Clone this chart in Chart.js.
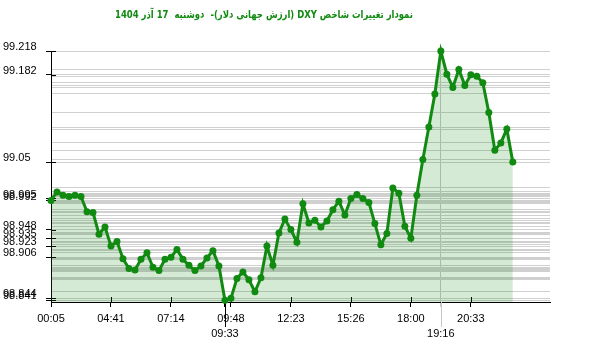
<!DOCTYPE html>
<html>
<head>
<meta charset="utf-8">
<script src="https://cdn.jsdelivr.net/npm/chart.js@4"></script>
<style>
  html, body { margin: 0; padding: 0; background: #fff; }
  #wrap { width: 600px; height: 352px; }
</style>
</head>
<body>
<div id="wrap"><canvas id="dxyChart"></canvas></div>
<script>
// DXY values, one per sample
var dxyValues = [
    98.992, 99.005, 99.000, 98.998, 99.000, 98.998, 98.975, 98.974, 98.941, 98.952,
    98.923, 98.930, 98.904, 98.889, 98.887, 98.903, 98.913, 98.891, 98.886, 98.903,
    98.906, 98.918, 98.903, 98.894, 98.886, 98.893, 98.905, 98.916, 98.893, 98.841,
    98.844, 98.874, 98.884, 98.872, 98.854, 98.875, 98.923, 98.894, 98.943, 98.964,
    98.948, 98.929, 98.987, 98.958, 98.962, 98.952, 98.961, 98.978, 98.991, 98.970,
    98.995, 99.001, 98.995, 98.989, 98.957, 98.925, 98.942, 99.011, 99.003, 98.953,
    98.935, 99.000, 99.054, 99.103, 99.153, 99.218, 99.183, 99.163, 99.190, 99.166,
    99.182, 99.180, 99.170, 99.125, 99.068, 99.079, 99.100, 99.050
];
// x tick labels (time) and the sample index they sit on
var timeLabels = ['00:05', '04:41', '07:14', '09:48', '12:23', '15:26', '18:00', '20:33'];
var timeIndex = [0, 10, 20, 30, 40, 50, 60, 70];
var lowTime = '09:33', lowIndex = 29;
var highTime = '19:16', highIndex = 65;
// labelled y ticks
var yTickLabels = [99.218, 99.182, 99.05, 98.995, 98.992, 98.948, 98.935, 98.923, 98.906, 98.844, 98.841];

var titleText = 'نمودار تغییرات شاخص DXY (ارزش جهانی دلار)-  دوشنبه  17 آذر 1404';
var green = '#108a10';

var points = dxyValues.map(function (v, i) { return { x: i, y: v }; });
var gridValues = dxyValues.concat(yTickLabels).filter(function (v, i, a) { return a.indexOf(v) === i; });
var isLabelled = function (v) { return yTickLabels.indexOf(v) >= 0; };

var xTickText = {};
timeIndex.forEach(function (idx, i) { xTickText[idx] = timeLabels[i]; });
xTickText[lowIndex] = ['', lowTime];
xTickText[highIndex] = ['', highTime];

// title + inner halves of tick marks + long marks for min/max time
var extras = {
    id: 'extras',
    beforeDatasetsDraw: function (chart) {
        var ctx = chart.ctx, xs = chart.scales.x, ys = chart.scales.y;
        var area = chart.chartArea;
        ctx.save();
        ctx.lineWidth = 1;
        ctx.strokeStyle = '#000';
        ctx.beginPath();
        yTickLabels.forEach(function (v) {
            var py = Math.round(ys.getPixelForValue(v)) + 0.5;
            ctx.moveTo(area.left, py);
            ctx.lineTo(area.left + 5, py);
        });
        timeIndex.concat([lowIndex]).forEach(function (idx) {
            var px = Math.round(xs.getPixelForValue(idx)) + 0.5;
            ctx.moveTo(px, area.bottom - 5);
            ctx.lineTo(px, area.bottom);
        });
        ctx.stroke();
        // long marks below the axis
        var lx = Math.round(xs.getPixelForValue(lowIndex)) + 0.5;
        ctx.beginPath();
        ctx.moveTo(lx, area.bottom);
        ctx.lineTo(lx, area.bottom + 25);
        ctx.stroke();
        var hx = Math.round(xs.getPixelForValue(highIndex)) + 0.5;
        ctx.strokeStyle = '#c8c8c8';
        ctx.beginPath();
        ctx.moveTo(hx, area.bottom);
        ctx.lineTo(hx, area.bottom + 25);
        ctx.stroke();
        ctx.restore();
    },
    afterDraw: function (chart) {
        var ctx = chart.ctx;
        ctx.save();
        ctx.direction = 'rtl';
        ctx.textAlign = 'center';
        ctx.textBaseline = 'middle';
        ctx.fillStyle = green;
        ctx.font = 'bold 11px "DejaVu Sans"';
        ctx.fillText(titleText, 264, 15, 298);
        ctx.restore();
    }
};

var ctx = document.getElementById('dxyChart').getContext('2d');
var chart = new Chart(ctx, {
    type: 'line',
    data: {
        datasets: [{
            data: points,
            borderColor: green,
            borderWidth: 3,
            backgroundColor: 'rgba(0,128,0,0.17)',
            fill: 'start',
            tension: 0,
            pointRadius: 3.5,
            pointBorderWidth: 0,
            pointBackgroundColor: green,
            clip: false
        }]
    },
    options: {
        responsive: true,
        maintainAspectRatio: false,
        animation: false,
        events: [],
        layout: { padding: { left: 3, top: 51, right: 50, bottom: 0 } },
        plugins: { legend: { display: false }, tooltip: { enabled: false }, title: { display: false } },
        scales: {
            x: {
                type: 'linear',
                min: 0,
                max: 83.2,
                afterBuildTicks: function (axis) {
                    axis.ticks = timeIndex.concat([lowIndex, highIndex]).map(function (v) { return { value: v }; });
                },
                afterFit: function (axis) { axis.height = 50; },
                border: { display: true, color: '#000', width: 1 },
                grid: {
                    drawOnChartArea: true,
                    tickLength: 5,
                    color: function (c) { return c.tick && c.tick.value === highIndex ? '#c8c8c8' : 'rgba(0,0,0,0)'; },
                    tickColor: function (c) { return c.tick && c.tick.value === highIndex ? '#c8c8c8' : '#000'; }
                },
                ticks: {
                    autoSkip: false,
                    maxRotation: 0,
                    padding: 5,
                    color: '#000',
                    font: { family: '"Liberation Sans", Arial, sans-serif', size: 11, lineHeight: 1.35 },
                    callback: function (v) { return xTickText[v]; }
                }
            },
            y: {
                min: 98.8385,
                max: 99.218,
                afterBuildTicks: function (axis) {
                    axis.ticks = gridValues.map(function (v) { return { value: v }; });
                },
                afterFit: function (axis) { axis.width = 48; },
                border: { display: true, color: '#000', width: 1 },
                grid: {
                    color: '#d0d0d0',
                    tickLength: 5,
                    tickColor: function (c) { return c.tick && isLabelled(c.tick.value) ? '#000' : 'rgba(0,0,0,0)'; }
                },
                ticks: {
                    autoSkip: false,
                    crossAlign: 'far',
                    labelOffset: -4,
                    color: '#000',
                    font: { family: '"Liberation Sans", Arial, sans-serif', size: 11 },
                    callback: function (v) { return isLabelled(v) ? String(v) : ''; }
                }
            }
        }
    },
    plugins: [extras]
});
</script>
</body>
</html>
